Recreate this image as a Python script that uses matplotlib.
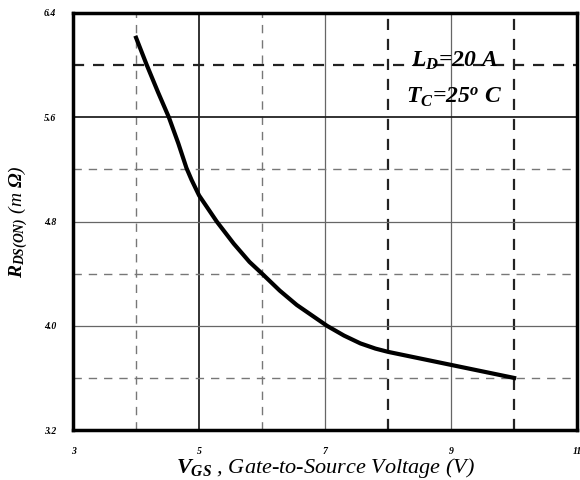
import matplotlib as mpl
mpl.use('Agg')
from matplotlib import pyplot as plt

mpl.rcParams.update({'font.family': 'Liberation Serif', 'font.weight': 'bold',
                     'font.style': 'italic', 'mathtext.fontset': 'custom',
                     'mathtext.rm': 'Liberation Serif:bold:italic',
                     'mathtext.it': 'Liberation Serif:bold:italic',
                     'mathtext.bf': 'Liberation Serif:bold:italic',
                     'mathtext.default': 'it'})

# curve
vgs = [4.0, 4.17, 4.35, 4.52, 4.67, 4.8, 4.88, 5.0, 5.28, 5.55, 5.8, 6.0,
       6.28, 6.55, 7.03, 7.3, 7.56, 7.8, 8.0, 8.5, 9.0, 9.5, 10.0]
rds = [6.21, 6.0, 5.79, 5.6, 5.4, 5.21, 5.12, 5.0, 4.8, 4.63, 4.49, 4.4,
       4.27, 4.16, 4.0, 3.925, 3.865, 3.825, 3.80, 3.75, 3.70, 3.65, 3.60]

xticks = [3, 5, 7, 9, 11]
yticks = [3.2, 4.0, 4.8, 5.6, 6.4]

# grid lines: (value, style)
xgrid = [(4, 'light'), (5, 'solid'), (6, 'light'), (7, 'thin'), (8, 'dark'), (9, 'thin'), (10, 'dark')]
ygrid = [(3.6, 'light'), (4.0, 'thin'), (4.4, 'light'), (4.8, 'thin'), (5.2, 'light'), (5.6, 'solid'), (6.0, 'dark')]

styles = {
    'light': dict(color='#777777', linestyle=(0, (6, 5)), linewidth=1.0),
    'dark': dict(color='#222222', linestyle=(0, (5, 4)), linewidth=1.6),
    'thin': dict(color='#666666', linestyle='-', linewidth=0.9),
    'solid': dict(color='#222222', linestyle='-', linewidth=1.3),
}

fig = plt.figure(figsize=(5.8, 4.8), dpi=100)
ax = fig.add_axes([0.126, 0.104, 0.869, 0.869])

for v, s in xgrid:
    ax.axvline(v, zorder=1, **styles[s])
for v, s in ygrid:
    ax.axhline(v, zorder=1, **styles[s])

ax.plot(vgs, rds, color='black', linewidth=3, zorder=3, solid_joinstyle='round')

ax.set_xlim(3, 11)
ax.set_ylim(3.2, 6.4)
ax.set_xticks(xticks)
ax.set_xticklabels([str(t) for t in xticks], fontsize=7)
ax.set_yticks(yticks)
ax.set_yticklabels(['%.1f' % t for t in yticks], fontsize=7)
ax.tick_params(length=0, pad=12)
for sp in ax.spines.values():
    sp.set_linewidth(2.5)

ax.text(9.05, 6.03, r'$L_D$=20 A', fontsize=17, ha='center', va='center')
ax.text(9.05, 5.75, r'$T_C$=25$^o$ C', fontsize=17, ha='center', va='center')

ax.set_xlabel(r'$V_{GS}$ , Gate-to-Source Voltage (V)', fontsize=16)
ax.xaxis.set_label_coords(0.5, -0.062)
ax.set_ylabel(r'$R_{DS(ON)}$ (m $\Omega$)', fontsize=14, labelpad=10)

plt.savefig('out.png', dpi=100)
